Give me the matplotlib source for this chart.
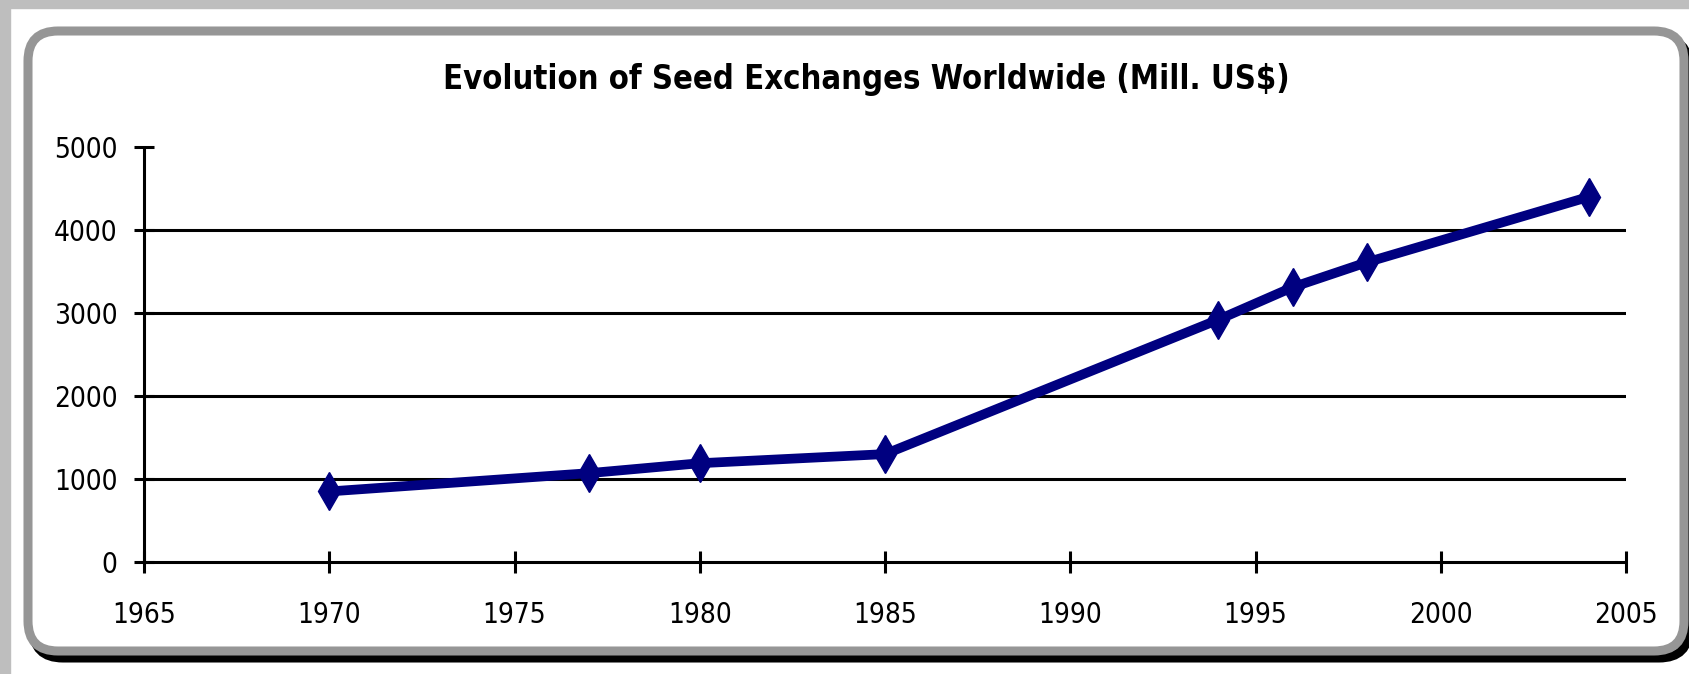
import numpy as np
import matplotlib
matplotlib.use('Agg')
import matplotlib.pyplot as plt
from matplotlib import font_manager
from matplotlib.patches import FancyBboxPatch, Rectangle

# data
years = [1970, 1977, 1980, 1985, 1994, 1996, 1998, 2004]
values = [850, 1070, 1190, 1300, 2920, 3310, 3610, 4400]
xticks = [1965, 1970, 1975, 1980, 1985, 1990, 1995, 2000, 2005]
yticks = [0, 1000, 2000, 3000, 4000, 5000]
title = 'Evolution of Seed Exchanges Worldwide (Mill. US$)'

# look for condensed / narrow faces (regular for ticks, bold for the title)
fonts = font_manager.fontManager.ttflist
def is_cond(f):
    return ('Narrow' in f.name or 'Condensed' in f.name
            or f.stretch in ('condensed', 'semi-condensed', 'extra-condensed', 375, 437, 500))
def wt(f):
    w = f.weight
    if isinstance(w, str):
        w = {'normal': 400, 'regular': 400, 'book': 400, 'bold': 700}.get(w, 400)
    return w
cond = [f for f in fonts if is_cond(f) and f.style == 'normal']
if cond:
    reg = min(cond, key=lambda f: abs(wt(f) - 400))
    bld = min(cond, key=lambda f: abs(wt(f) - 700))
    fprop = font_manager.FontProperties(fname=reg.fname)
    tprop = font_manager.FontProperties(fname=bld.fname)
    fam = reg.name
else:
    fam = 'Liberation Sans'
    fprop = font_manager.FontProperties(family=fam)
    tprop = font_manager.FontProperties(family=fam)
plt.rcParams['font.family'] = [fam, 'DejaVu Sans']

W, H = 1690, 674
fig = plt.figure(figsize=(W/100, H/100), dpi=100)
fig.patch.set_facecolor('white')

# light gray strips on top and left
fig.patches.append(Rectangle((0, H-8), W, 8, transform=None, color='#bebebe', zorder=0))
fig.patches.append(Rectangle((0, 0), 10, H, transform=None, color='#bebebe', zorder=0))

# shadow + rounded frame (pixel coords, y from bottom)
x0, x1 = 28, 1684
yt, yb = H-31, H-651
shadow = FancyBboxPatch((x0+5, yb-7), x1-x0, yt-yb, boxstyle='round,pad=0,rounding_size=30',
                        transform=None, facecolor='none', edgecolor='black', lw=6.5, zorder=1)
frame = FancyBboxPatch((x0, yb), x1-x0, yt-yb, boxstyle='round,pad=0,rounding_size=30',
                       transform=None, facecolor='white', edgecolor='#969696', lw=6.5, zorder=2)
fig.patches.append(shadow)
fig.patches.append(frame)

ax = fig.add_axes([144/W, (H-562)/H, (1626-144)/W, (562-147)/H])
ax.set_zorder(3)
ax.patch.set_visible(False)

ax.plot(years, values, color='#000080', lw=7, marker='d', markersize=19.5,
        markerfacecolor='#000080', markeredgecolor='#000080', solid_joinstyle='miter', zorder=5)

ax.set_xlim(1965, 2005)
ax.set_ylim(0, 5000)
ax.set_xticks(xticks)
ax.set_yticks(yticks)
ax.set_xticklabels([str(v) for v in xticks])
ax.set_yticklabels([str(v) for v in yticks])

for s in ['top', 'right']:
    ax.spines[s].set_visible(False)
for s in ['left', 'bottom']:
    ax.spines[s].set_linewidth(2.2)
    ax.spines[s].set_color('black')
    ax.spines[s].set_capstyle('butt')

r = fig.canvas.get_renderer()

# tick label size: "5000" is about 64 px wide in the reference
probe = fig.text(0, 0, '5000', fontproperties=fprop, fontsize=24)
lab = min(26, 24 * 64 / probe.get_window_extent(r).width)
probe.remove()

for t in ax.get_xticklabels() + ax.get_yticklabels():
    t.set_fontproperties(fprop)
    t.set_fontsize(lab)
ax.tick_params(axis='x', direction='inout', length=15.5, width=2.2, pad=20, colors='black')
ax.tick_params(axis='y', direction='inout', length=14, width=2.2, pad=12, colors='black')

for v in yticks[1:-1]:
    ax.axhline(v, color='black', lw=2.2, zorder=2)

# title: fit its width to the reference (about 847 px)
tt = fig.text(866.5/W, (H-89.3)/H, title, ha='center', va='baseline',
              color='black', fontproperties=tprop)
tt.set_fontsize(34.5)
wpx = tt.get_window_extent(r).width
tt.set_fontsize(min(34.5, 34.5 * 847 / wpx))

plt.savefig('out.png', dpi=100)
